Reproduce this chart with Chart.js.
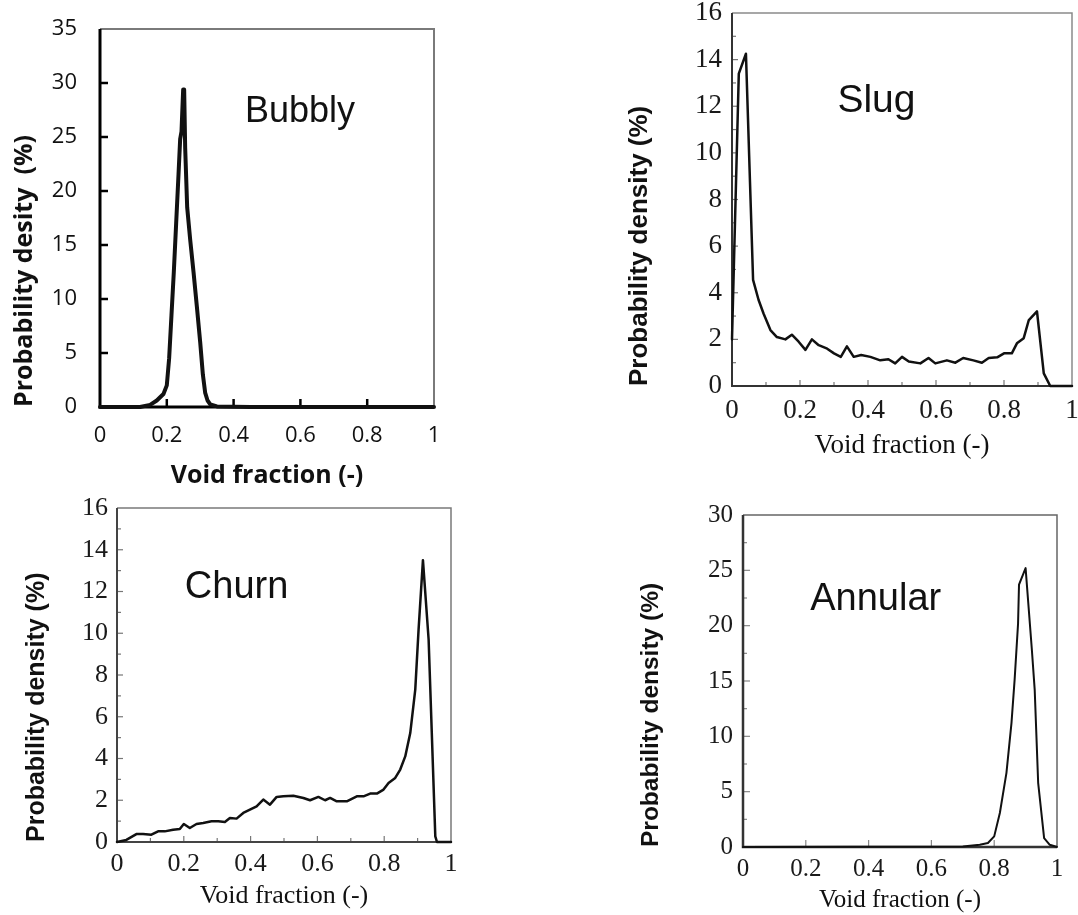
<!DOCTYPE html>
<html>
<head>
<meta charset="utf-8">
<script src="https://cdn.jsdelivr.net/npm/chart.js@4.4.1/dist/chart.umd.min.js"></script>
<style>
  html, body { margin: 0; padding: 0; background: #fff; }
  body { width: 1078px; height: 915px; position: relative; overflow: hidden; }
  canvas { position: absolute; }
</style>
</head>
<body>
<canvas id="bubbly" width="450" height="495" style="left:0;top:0"></canvas>
<canvas id="slug" width="458" height="470" style="left:620px;top:0"></canvas>
<canvas id="churn" width="460" height="420" style="left:0;top:495px"></canvas>
<canvas id="annular" width="458" height="420" style="left:620px;top:495px"></canvas>
<script>
// void fraction (x) and probability density (y)
var bubblyX = [0, 0.12, 0.15, 0.17, 0.19, 0.2, 0.207, 0.214, 0.221, 0.228, 0.235, 0.24, 0.244, 0.249, 0.252, 0.255, 0.261, 0.27, 0.28, 0.29, 0.3, 0.308, 0.315, 0.322, 0.33, 0.35, 0.45, 1]
var bubblyY = [0, 0, 0.2, 0.6, 1.2, 2.0, 4.5, 8.5, 12.5, 17, 21.5, 24.8, 25.5, 29.4, 29.4, 24, 18.5, 15.5, 12.5, 9.3, 6.0, 3.0, 1.3, 0.6, 0.25, 0.05, 0, 0]

var slugX = [0, 0.02, 0.041, 0.062, 0.078, 0.093, 0.113, 0.132, 0.157, 0.176, 0.196, 0.216, 0.235, 0.255, 0.28, 0.3, 0.32, 0.338, 0.358, 0.38, 0.407, 0.436, 0.46, 0.48, 0.5, 0.52, 0.554, 0.578, 0.598, 0.632, 0.657, 0.68, 0.71, 0.735, 0.755, 0.78, 0.8, 0.823, 0.838, 0.858, 0.873, 0.897, 0.917, 0.936, 1]
var slugY = [2.0, 13.4, 14.25, 4.55, 3.7, 3.1, 2.4, 2.1, 2.0, 2.2, 1.9, 1.55, 2.0, 1.75, 1.6, 1.4, 1.25, 1.7, 1.25, 1.33, 1.25, 1.1, 1.15, 0.97, 1.25, 1.05, 0.97, 1.2, 0.97, 1.1, 1.0, 1.2, 1.1, 1.0, 1.2, 1.23, 1.4, 1.4, 1.83, 2.05, 2.83, 3.2, 0.54, 0, 0]

var churnX = [0, 0.028, 0.058, 0.078, 0.103, 0.123, 0.143, 0.168, 0.188, 0.2, 0.218, 0.238, 0.258, 0.283, 0.303, 0.323, 0.338, 0.358, 0.378, 0.398, 0.418, 0.438, 0.458, 0.478, 0.498, 0.528, 0.558, 0.578, 0.603, 0.623, 0.638, 0.658, 0.688, 0.718, 0.738, 0.758, 0.778, 0.798, 0.813, 0.833, 0.848, 0.863, 0.878, 0.893, 0.903, 0.916, 0.933, 0.953, 0.958, 1]
var churnY = [0, 0.1, 0.38, 0.38, 0.35, 0.51, 0.51, 0.59, 0.62, 0.86, 0.67, 0.86, 0.91, 0.99, 0.99, 0.96, 1.15, 1.12, 1.39, 1.55, 1.71, 2.03, 1.79, 2.16, 2.19, 2.22, 2.11, 2.0, 2.16, 2.0, 2.11, 1.95, 1.95, 2.19, 2.19, 2.32, 2.32, 2.51, 2.83, 3.07, 3.47, 4.1, 5.22, 7.3, 10.2, 13.5, 9.7, 0.27, 0, 0]

var annularX = [0, 0.7, 0.754, 0.78, 0.8, 0.818, 0.839, 0.855, 0.865, 0.876, 0.879, 0.9, 0.92, 0.929, 0.94, 0.959, 0.977, 1]
var annularY = [0, 0.05, 0.2, 0.36, 0.96, 3.07, 6.7, 11.2, 15.1, 20.2, 23.7, 25.2, 17.8, 14.2, 5.8, 0.8, 0.2, 0]

var xTicks = ["0", "0.2", "0.4", "0.6", "0.8", "1"]

var SERIF = "'Liberation Serif', 'Times New Roman', serif"
var SANS = "'Liberation Sans', Arial, sans-serif"
var OPEN = "'Open Sans', sans-serif"

Chart.defaults.animation = false
Chart.defaults.events = []

// frame, inward tick marks and the regime label
var frameTicks = {
  id: "frameTicks",
  beforeDatasetsDraw(chart, args, o) {
    var ctx = chart.ctx
    var a = chart.chartArea
    var x = chart.scales.x
    var y = chart.scales.y
    ctx.save()
    ctx.lineCap = "butt"
    ctx.strokeStyle = o.farColor
    ctx.lineWidth = o.farWidth
    ctx.beginPath()
    ctx.moveTo(a.left, a.top)
    ctx.lineTo(a.right, a.top)
    ctx.lineTo(a.right, a.bottom)
    ctx.stroke()

    ctx.strokeStyle = o.tickColor
    ctx.lineWidth = o.tickWidth
    var n = Math.round((x.max - x.min) / o.xMinor)
    for (var i = 1; i < n; i++) {
      var v = x.min + i * o.xMinor
      var major = Math.abs(v / o.xMajor - Math.round(v / o.xMajor)) < 1e-6
      var len = major ? o.majorLen : o.minorLen
      var px = x.getPixelForValue(v)
      ctx.beginPath()
      ctx.moveTo(px, a.bottom)
      ctx.lineTo(px, a.bottom - len)
      ctx.stroke()
    }
    n = Math.round((y.max - y.min) / o.yMinor)
    for (var j = 1; j < n; j++) {
      var w = y.min + j * o.yMinor
      var majorY = Math.abs(w / o.yMajor - Math.round(w / o.yMajor)) < 1e-6
      var lenY = majorY ? o.majorLen : o.minorLen
      var py = y.getPixelForValue(w)
      ctx.beginPath()
      ctx.moveTo(a.left, py)
      ctx.lineTo(a.left + lenY, py)
      ctx.stroke()
    }

    ctx.strokeStyle = o.axisColor
    ctx.lineWidth = o.axisWidth
    ctx.beginPath()
    ctx.moveTo(a.left, a.top)
    ctx.lineTo(a.left, a.bottom)
    ctx.lineTo(a.right, a.bottom)
    ctx.stroke()
    ctx.restore()
  },
  afterDatasetsDraw(chart, args, o) {
    var ctx = chart.ctx
    ctx.save()
    ctx.font = o.labelFont
    ctx.fillStyle = "#111"
    ctx.textAlign = "left"
    ctx.textBaseline = "alphabetic"
    ctx.fillText(o.label, chart.scales.x.getPixelForValue(o.labelX), chart.scales.y.getPixelForValue(o.labelY))
    ctx.restore()
  },
}

function makePanel(id, p) {
  var pts = p.xs.map(function (v, i) {
    return { x: v, y: p.ys[i] }
  })
  new Chart(document.getElementById(id), {
    type: "scatter",
    data: {
      datasets: [
        {
          data: pts,
          showLine: true,
          borderColor: "#111",
          borderWidth: p.lineWidth,
          borderJoinStyle: "round",
          borderCapStyle: "round",
          pointRadius: 0,
          tension: 0,
          clip: false,
        },
      ],
    },
    options: {
      responsive: false,
      layout: { padding: { left: 0, top: p.padTop, right: p.padRight, bottom: 0 } },
      plugins: {
        legend: { display: false },
        tooltip: { enabled: false },
        frameTicks: p.frame,
      },
      scales: {
        x: {
          type: "linear",
          min: 0,
          max: 1,
          grid: { display: false, drawTicks: false },
          border: { display: false },
          ticks: {
            stepSize: 0.2,
            autoSkip: false,
            maxRotation: 0,
            padding: p.xTickPad,
            color: p.tickColor,
            font: p.tickFont,
            callback: function (v) {
              return xTicks[Math.round(v * 5)]
            },
          },
          title: {
            display: true,
            text: "Void fraction (-)",
            color: "#111",
            font: p.xTitleFont,
            padding: { top: 0, bottom: p.xTitlePad },
          },
          afterFit: function (s) {
            s.height = p.xHeight
            s.paddingLeft = 0
            s.paddingRight = 0
          },
        },
        y: {
          min: 0,
          max: p.yMax,
          grid: { display: false, drawTicks: false },
          border: { display: false },
          ticks: {
            stepSize: p.yStep,
            autoSkip: false,
            padding: p.yTickPad,
            color: p.tickColor,
            font: p.tickFont,
          },
          title: {
            display: true,
            text: p.yTitle,
            align: "start",
            color: "#111",
            font: p.yTitleFont,
            padding: { top: p.yTitlePad, bottom: 0 },
          },
          afterFit: function (s) {
            s.width = p.yWidth
            s.paddingTop = 0
            s.paddingBottom = 0
          },
        },
      },
    },
    plugins: [frameTicks],
  })
}

makePanel("bubbly", {
  xs: bubblyX, ys: bubblyY, lineWidth: 4,
  padTop: 29, padRight: 16, yWidth: 100, xHeight: 88,
  yMax: 35, yStep: 5,
  tickFont: { family: OPEN, size: 22 }, tickColor: "#111",
  xTickPad: 16, yTickPad: 23,
  xTitleFont: { family: OPEN, size: 25, weight: "bold" }, xTitlePad: 4,
  yTitle: "Probability desity  (%)",
  yTitleFont: { family: OPEN, size: 25, weight: "bold" }, yTitlePad: 10,
  frame: {
    farColor: "#7a7a7a", farWidth: 2, axisColor: "#000", axisWidth: 3,
    tickColor: "#000", tickWidth: 2.5, majorLen: 8, minorLen: 8,
    xMajor: 0.2, xMinor: 0.2, yMajor: 5, yMinor: 5,
    label: "Bubbly", labelX: 0.434, labelY: 26.4, labelFont: "36px " + SANS,
  },
})

makePanel("slug", {
  xs: slugX, ys: slugY, lineWidth: 2.5,
  padTop: 13, padRight: 6, yWidth: 112, xHeight: 84,
  yMax: 16, yStep: 2,
  tickFont: { family: SERIF, size: 27 }, tickColor: "#1a1a1a",
  xTickPad: 9, yTickPad: 10,
  xTitleFont: { family: SERIF, size: 27 }, xTitlePad: 8,
  yTitle: "Probability density (%)",
  yTitleFont: { family: SANS, size: 26, weight: "bold" }, yTitlePad: 4,
  frame: {
    farColor: "#8a8a8a", farWidth: 1.5, axisColor: "#333", axisWidth: 2,
    tickColor: "#777", tickWidth: 1.2, majorLen: 6, minorLen: 4,
    xMajor: 0.2, xMinor: 0.1, yMajor: 2, yMinor: 1,
    label: "Slug", labelX: 0.31, labelY: 11.76, labelFont: "39px " + SANS,
  },
})

makePanel("churn", {
  xs: churnX, ys: churnY, lineWidth: 2.5,
  padTop: 13, padRight: 9, yWidth: 117, xHeight: 73,
  yMax: 16, yStep: 2,
  tickFont: { family: SERIF, size: 26 }, tickColor: "#1a1a1a",
  xTickPad: 7, yTickPad: 9,
  xTitleFont: { family: SERIF, size: 26 }, xTitlePad: 3,
  yTitle: "Probability density (%)",
  yTitleFont: { family: SANS, size: 25, weight: "bold" }, yTitlePad: 22,
  frame: {
    farColor: "#7a7a7a", farWidth: 1.5, axisColor: "#444", axisWidth: 2,
    tickColor: "#777", tickWidth: 1.2, majorLen: 6, minorLen: 4,
    xMajor: 0.2, xMinor: 0.1, yMajor: 2, yMinor: 1,
    label: "Churn", labelX: 0.203, labelY: 11.7, labelFont: "38px " + SANS,
  },
})

makePanel("annular", {
  xs: annularX, ys: annularY, lineWidth: 2,
  padTop: 20, padRight: 21, yWidth: 123, xHeight: 68,
  yMax: 30, yStep: 5,
  tickFont: { family: SERIF, size: 25 }, tickColor: "#1a1a1a",
  xTickPad: 7, yTickPad: 10,
  xTitleFont: { family: SERIF, size: 25 }, xTitlePad: 0,
  yTitle: "Probability density (%)",
  yTitleFont: { family: SANS, size: 24.5, weight: "bold" }, yTitlePad: 17,
  frame: {
    farColor: "#666", farWidth: 1.5, axisColor: "#333", axisWidth: 2.5,
    tickColor: "#888", tickWidth: 1.2, majorLen: 7, minorLen: 4,
    xMajor: 0.2, xMinor: 0.2, yMajor: 5, yMinor: 2.5,
    label: "Annular", labelX: 0.214, labelY: 21.4, labelFont: "38px " + SANS,
  },
})
</script>
</body>
</html>
